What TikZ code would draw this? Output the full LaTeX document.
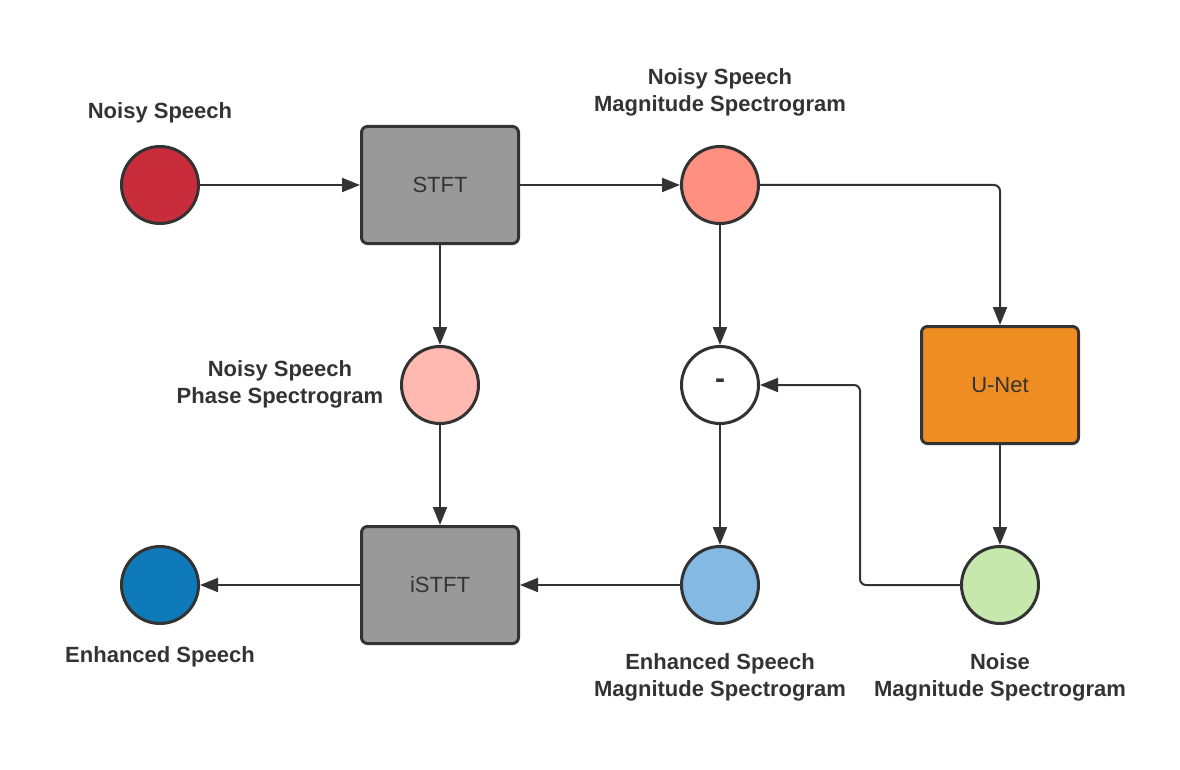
\documentclass[tikz,border=0pt]{standalone}
\usepackage{fontspec}
\setmainfont{Liberation Sans}
\usetikzlibrary{arrows.meta}
\definecolor{ink}{HTML}{333333}
\definecolor{cred}{HTML}{C92C3B}
\definecolor{csalmon}{HTML}{FF8F81}
\definecolor{cpink}{HTML}{FFB9B0}
\definecolor{corange}{HTML}{EF8D22}
\definecolor{cblue}{HTML}{83B9E3}
\definecolor{cgreen}{HTML}{C7E8AC}
\definecolor{cdblue}{HTML}{0E7AB9}
\definecolor{cgray}{HTML}{999999}
\begin{document}
\begin{tikzpicture}[x=1pt,y=-1pt,
  dot/.style={circle,draw=ink,line width=3pt,minimum size=77pt,inner sep=0pt},
  blockbox/.style={rectangle,draw=ink,line width=3pt,rounded corners=6pt,minimum width=157pt,minimum height=117pt,inner sep=0pt,font=\fontsize{22}{27}\selectfont,text=ink},
  lbl/.style={font=\fontsize{22}{27}\selectfont\bfseries,text=ink,align=center,inner sep=0pt},
  conn/.style={draw=ink,line width=2pt,-{Triangle[length=18pt,width=14pt]},rounded corners=6pt}]
\useasboundingbox (0,0) rectangle (1180,770);
% nodes
\node[dot,fill=cred] (ns) at (160,185) {};
\node[blockbox,fill=cgray] (stft) at (440,185) {STFT};
\node[dot,fill=csalmon] (nmag) at (720,185) {};
\node[dot,fill=cpink] (nph) at (440,385) {};
\node[dot,fill=white,font=\fontsize{30}{34}\selectfont\bfseries,text=ink] (minus) at (720,385) {\raisebox{2pt}{-}};
\node[blockbox,fill=corange] (unet) at (1000,385) {U-Net};
\node[dot,fill=cdblue] (es) at (160,585) {};
\node[blockbox,fill=cgray] (istft) at (440,585) {iSTFT};
\node[dot,fill=cblue] (emag) at (720,585) {};
\node[dot,fill=cgreen] (noise) at (1000,585) {};
% labels
\node[lbl] (l1) at (160,112.5) {Noisy Speech};
\node[lbl] (l2) at (720,92) {Noisy Speech\\Magnitude Spectrogram};
\node[lbl] (l3) at (280,384) {Noisy Speech\\Phase Spectrogram};
\node[lbl] (l4) at (160,656.5) {Enhanced Speech};
\node[lbl] (l5) at (720,677) {Enhanced Speech\\Magnitude Spectrogram};
\node[lbl] (l6) at (1000,677) {Noise\\Magnitude Spectrogram};
% connectors
\draw[conn] (ns) -- (stft);
\draw[conn] (stft) -- (nmag);
\draw[conn] (stft) -- (nph);
\draw[conn] (nph) -- (istft);
\draw[conn] (nmag.east) -| (unet.north);
\draw[conn] (nmag) -- (minus);
\draw[conn] (unet) -- (noise);
\draw[conn] (noise.west) -- ++(-100,0) |- (minus.east);
\draw[conn] (minus) -- (emag);
\draw[conn] (emag) -- (istft);
\draw[conn] (istft) -- (es);
\end{tikzpicture}
\end{document}
